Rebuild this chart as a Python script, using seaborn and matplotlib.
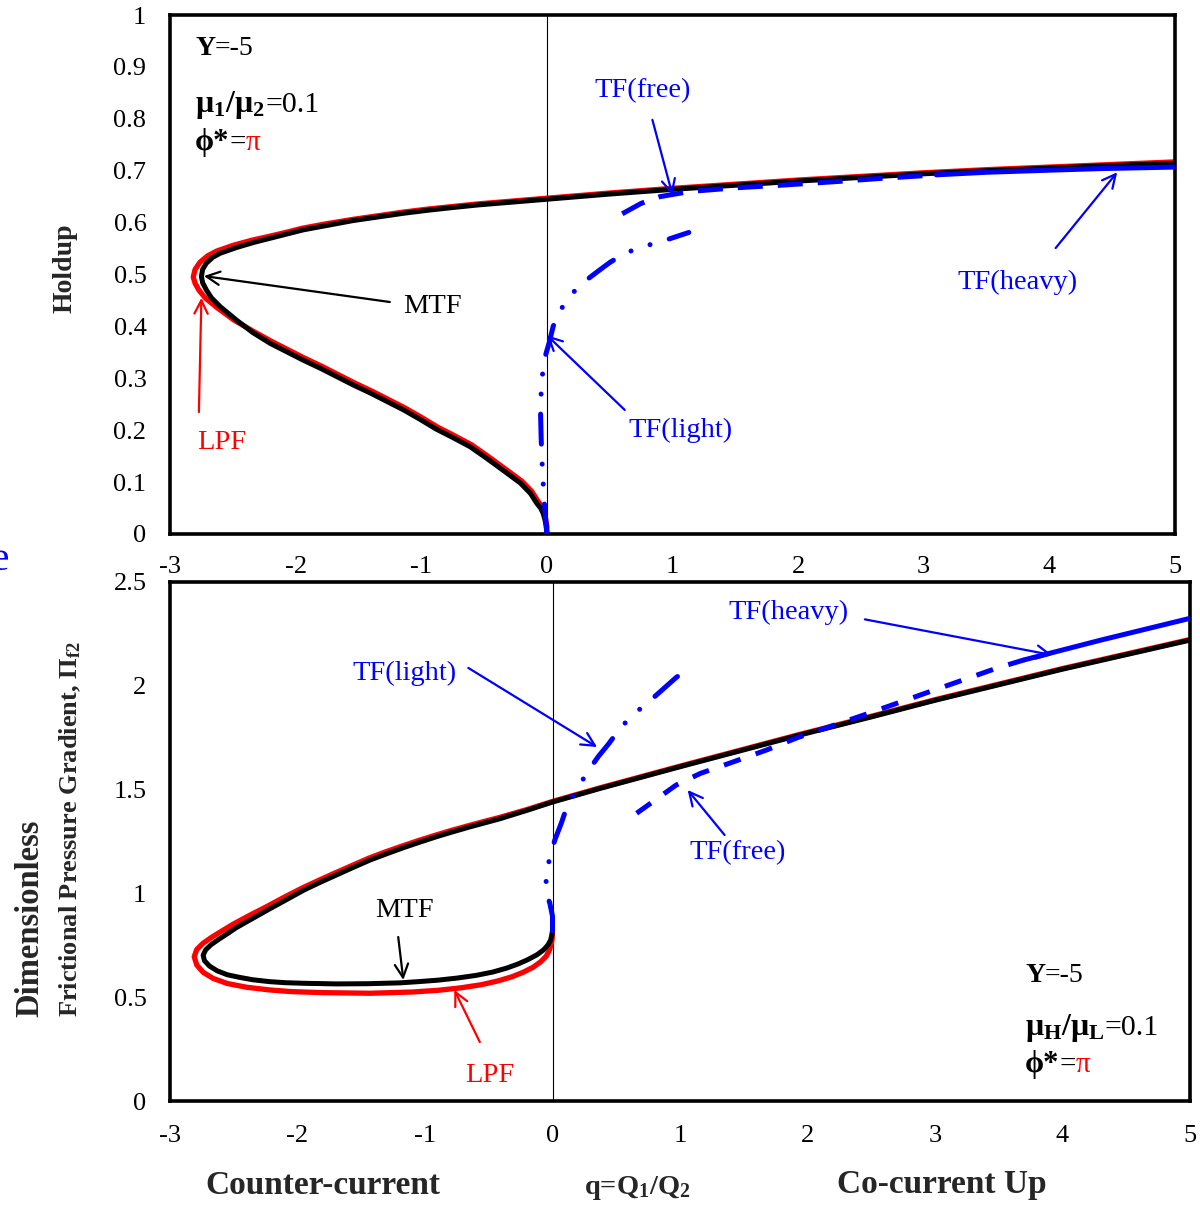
import seaborn as sns
import matplotlib.pyplot as plt
from matplotlib.ticker import FuncFormatter

# ---- top panel: holdup vs q ----
mtf_top_q = [0.00, -0.005, -0.015, -0.03, -0.05, -0.08, -0.13, -0.21, -0.35, -0.48, -0.61, -0.75, -0.88,
             -1.01, -1.14, -1.27, -1.40, -1.54, -1.67, -1.80, -1.94, -2.07, -2.20, -2.34, -2.47, -2.60,
             -2.67, -2.71, -2.74, -2.75, -2.74, -2.71, -2.66, -2.60, -2.47, -2.33, -2.20, -2.07, -1.94,
             -1.74, -1.54, -1.34, -1.14, -0.94, -0.75, -0.55, -0.35, 0.00, 0.50, 1.00, 1.50, 2.00, 2.50,
             3.00, 3.50, 4.00, 4.50, 5.00]
mtf_top_h = [0.000, 0.015, 0.027, 0.040, 0.050, 0.059, 0.078, 0.098, 0.123, 0.146, 0.168, 0.186, 0.202,
             0.221, 0.239, 0.255, 0.271, 0.287, 0.303, 0.319, 0.335, 0.351, 0.367, 0.388, 0.412, 0.438,
             0.455, 0.470, 0.484, 0.496, 0.510, 0.522, 0.533, 0.541, 0.552, 0.562, 0.570, 0.578, 0.586,
             0.595, 0.604, 0.611, 0.618, 0.624, 0.629, 0.634, 0.638, 0.645, 0.655, 0.664, 0.672, 0.680,
             0.687, 0.694, 0.700, 0.705, 0.710, 0.714]
lpf_top_q = [0.00, 0.000, -0.010, -0.02, -0.04, -0.07, -0.12, -0.20, -0.34, -0.47, -0.60, -0.74, -0.87,
             -1.00, -1.13, -1.26, -1.39, -1.53, -1.66, -1.79, -1.93, -2.06, -2.19, -2.34, -2.49, -2.63,
             -2.72, -2.77, -2.80, -2.815, -2.80, -2.76, -2.70, -2.63, -2.50, -2.35, -2.22, -2.08, -1.95,
             -1.75, -1.55, -1.35, -1.15, -0.95, -0.75, -0.55, -0.35, 0.00, 0.50, 1.00, 1.50, 2.00, 2.50,
             3.00, 3.50, 4.00, 4.50, 5.00]
lpf_top_h = [0.000, 0.015, 0.028, 0.042, 0.053, 0.063, 0.082, 0.102, 0.127, 0.150, 0.172, 0.190, 0.206,
             0.225, 0.243, 0.259, 0.275, 0.291, 0.307, 0.323, 0.339, 0.355, 0.371, 0.391, 0.412, 0.437,
             0.455, 0.470, 0.483, 0.495, 0.510, 0.524, 0.536, 0.545, 0.556, 0.566, 0.573, 0.581, 0.589,
             0.598, 0.606, 0.613, 0.620, 0.626, 0.631, 0.636, 0.640, 0.647, 0.657, 0.666, 0.674, 0.682,
             0.689, 0.696, 0.702, 0.707, 0.712, 0.717]
light_top_q = [0.00, -0.01, -0.02, -0.035, -0.045, -0.05, -0.045, -0.03, -0.01, 0.02, 0.05, 0.09, 0.13,
               0.17, 0.22, 0.28, 0.34, 0.40, 0.50, 0.62, 0.77, 0.93, 1.13]
light_top_h = [0.000, 0.03, 0.06, 0.12, 0.18, 0.23, 0.28, 0.32, 0.345, 0.37, 0.40, 0.422, 0.44,
               0.453, 0.468, 0.481, 0.494, 0.505, 0.523, 0.541, 0.554, 0.565, 0.581]
free_top_q = [0.60, 0.75, 0.90, 1.14, 1.50, 1.86, 2.30, 2.65, 3.10]
free_top_h = [0.617, 0.637, 0.650, 0.660, 0.667, 0.672, 0.679, 0.685, 0.692]
heavy_top_q = [3.10, 3.50, 4.00, 4.40, 5.00]
heavy_top_h = [0.692, 0.697, 0.701, 0.704, 0.707]

# ---- bottom panel: frictional pressure gradient vs q ----
mtf_bot_q = [0.00, -0.005, -0.015, -0.035, -0.07, -0.12, -0.19, -0.27, -0.36, -0.47, -0.60, -0.75, -0.90,
             -1.05, -1.20, -1.45, -1.69, -1.95, -2.10, -2.22, -2.35, -2.45, -2.55, -2.63, -2.69, -2.73,
             -2.74, -2.72, -2.68, -2.62, -2.55, -2.48, -2.35, -2.22, -2.08, -1.95, -1.82, -1.69, -1.56,
             -1.43, -1.30, -1.17, -1.04, -0.91, -0.78, -0.65, -0.53, -0.41, -0.20, 0.00, 0.37, 1.00, 1.94,
             2.50, 3.00, 3.50, 4.00, 4.50, 5.00]
mtf_bot_p = [0.824, 0.800, 0.775, 0.752, 0.728, 0.705, 0.682, 0.660, 0.640, 0.621, 0.605, 0.592, 0.582,
             0.575, 0.569, 0.565, 0.564, 0.567, 0.570, 0.575, 0.584, 0.595, 0.608, 0.627, 0.650, 0.676,
             0.703, 0.728, 0.752, 0.778, 0.806, 0.835, 0.880, 0.925, 0.972, 1.016, 1.054, 1.090, 1.126,
             1.161, 1.191, 1.220, 1.247, 1.273, 1.297, 1.320, 1.340, 1.360, 1.400, 1.440, 1.505, 1.610,
             1.763, 1.850, 1.930, 2.005, 2.080, 2.150, 2.220]
lpf_bot_q = [0.00, -0.003, -0.01, -0.025, -0.05, -0.09, -0.15, -0.23, -0.32, -0.43, -0.56, -0.72, -0.90,
             -1.10, -1.43, -1.80, -2.05, -2.22, -2.40, -2.55, -2.66, -2.74, -2.79, -2.81, -2.79, -2.74,
             -2.67, -2.59, -2.51, -2.38, -2.24, -2.10, -1.96, -1.83, -1.70, -1.57, -1.44, -1.31, -1.18,
             -1.05, -0.92, -0.79, -0.66, -0.54, -0.42, -0.20, 0.00, 0.37, 1.00, 1.94, 2.50, 3.00, 3.50,
             4.00, 4.50, 5.00]
lpf_bot_p = [0.808, 0.780, 0.755, 0.725, 0.697, 0.672, 0.645, 0.620, 0.598, 0.578, 0.560, 0.545, 0.533,
             0.525, 0.519, 0.522, 0.527, 0.535, 0.548, 0.566, 0.590, 0.620, 0.655, 0.695, 0.730, 0.760,
             0.790, 0.820, 0.850, 0.893, 0.937, 0.983, 1.027, 1.064, 1.100, 1.135, 1.170, 1.200, 1.228,
             1.255, 1.280, 1.304, 1.326, 1.346, 1.365, 1.404, 1.443, 1.508, 1.613, 1.766, 1.853, 1.933,
             2.008, 2.083, 2.153, 2.223]
light_bot_q = [0.00, 0.00, -0.02, -0.04, -0.05, -0.05, -0.035, -0.02, 0.02, 0.07, 0.12, 0.20, 0.28,
               0.36, 0.44, 0.53, 0.63, 0.75, 0.86, 0.97, 1.10]
light_bot_p = [0.82, 0.89, 0.95, 0.99, 1.04, 1.08, 1.13, 1.18, 1.26, 1.34, 1.43, 1.51, 1.59,
               1.66, 1.72, 1.795, 1.86, 1.92, 1.98, 2.04, 2.10]
free_bot_q = [0.66, 0.97, 1.16, 1.42, 1.68, 1.92, 2.44, 2.96, 3.48, 3.70]
free_bot_p = [1.386, 1.522, 1.578, 1.634, 1.691, 1.750, 1.859, 1.972, 2.084, 2.125]
heavy_bot_q = [3.70, 4.30, 5.00]
heavy_bot_p = [2.125, 2.220, 2.325]

top_yticks = [0, 0.1, 0.2, 0.3, 0.4, 0.5, 0.6, 0.7, 0.8, 0.9, 1]
bot_yticks = [0, 0.5, 1, 1.5, 2, 2.5]
q_ticks = [-3, -2, -1, 0, 1, 2, 3, 4, 5]

sns.set_style("white")
plt.rcParams['font.family'] = ['Liberation Serif', 'DejaVu Serif']
plt.rcParams['mathtext.fontset'] = 'custom'
plt.rcParams['mathtext.rm'] = 'Liberation Serif'
plt.rcParams['mathtext.it'] = 'Liberation Serif:italic'
plt.rcParams['mathtext.bf'] = 'Liberation Serif:bold'
plt.rcParams['axes.unicode_minus'] = False

W, H = 1200, 1206
fig = plt.figure(figsize=(12, 12.06), dpi=100)
ax1 = fig.add_axes([170 / W, 1 - 534 / H, 1005 / W, 519 / H])
ax2 = fig.add_axes([170 / W, 1 - 1101 / H, 1020 / W, 519 / H])

BLUE = '#0000ff'
dashdotdot = (0, (6, 4, 0.01, 4, 0.01, 4))


def curve(ax, x, y, color, ls='-', cap='butt', lw=3.6, z=3):
    sns.lineplot(x=x, y=y, ax=ax, sort=False, estimator=None, color=color,
                 linewidth=lw, linestyle=ls, dash_capstyle=cap,
                 solid_joinstyle='round', zorder=z)


def arrow(ax, tail, tip, color):
    ax.annotate('', xy=tip, xytext=tail,
                arrowprops=dict(arrowstyle='->', color=color, lw=1.6,
                                mutation_scale=24, shrinkA=0, shrinkB=0))


# top panel
curve(ax1, lpf_top_q, lpf_top_h, 'red', lw=3.8, z=2)
curve(ax1, mtf_top_q, mtf_top_h, 'black', z=3)
curve(ax1, light_top_q, light_top_h, BLUE, ls=dashdotdot, cap='round', z=4)
curve(ax1, free_top_q, free_top_h, BLUE, ls=(0, (5, 3)), z=4)
curve(ax1, heavy_top_q, heavy_top_h, BLUE, z=4)

# bottom panel
curve(ax2, lpf_bot_q, lpf_bot_p, 'red', lw=3.8, z=2)
curve(ax2, mtf_bot_q, mtf_bot_p, 'black', z=3)
curve(ax2, light_bot_q, light_bot_p, BLUE, ls=dashdotdot, cap='round', z=4)
curve(ax2, free_bot_q, free_bot_p, BLUE, ls=(0, (3.5, 3.2)), z=4)
curve(ax2, heavy_bot_q, heavy_bot_p, BLUE, z=4)

for ax, ylim, yt, pad in [(ax1, (0, 1), top_yticks, 11), (ax2, (0, 2.5), bot_yticks, 12)]:
    ax.set_xlim(-3, 5)
    ax.set_ylim(*ylim)
    ax.set_xticks(q_ticks)
    ax.set_yticks(yt)
    ax.yaxis.set_major_formatter(FuncFormatter(lambda v, p: '%g' % v))
    ax.axvline(0, color='black', lw=0.8, zorder=1)
    ax.grid(False)
    ax.set_xlabel('')
    ax.set_ylabel('')
    for s in ax.spines.values():
        s.set_linewidth(2.6)
        s.set_color('black')
    ax.tick_params(direction='out', length=5, width=1, color='#555555',
                   labelsize=19, labelcolor='black')
    ax.tick_params(axis='x', pad=pad)
    ax.tick_params(axis='y', pad=12)


def chain(ax, x, y, pieces):
    # write text pieces one after another on a shared baseline
    renderer = fig.canvas.get_renderer()
    for s, weight, color, size in pieces:
        t = ax.text(x, y, s, fontsize=size, va='baseline', fontweight=weight, color=color)
        bb = t.get_window_extent(renderer)
        x = ax.transData.inverted().transform((bb.x1, bb.y0))[0]


def params(ax, x, ys, ratio):
    chain(ax, x, ys[0], [('Y', 'bold', 'black', 20), ('=-5', 'normal', 'black', 20)])
    chain(ax, x, ys[1], [(ratio, 'bold', 'black', 23), ('=0.1', 'normal', 'black', 21.5)])
    chain(ax, x, ys[2], [('\u03d5*', 'bold', 'black', 22), ('=', 'normal', 'black', 21),
                         ('π', 'normal', 'red', 21)])


fig.canvas.draw()
fs = 20.5
# top annotations
params(ax1, -2.80, (0.923, 0.813, 0.740), r'μ$_\mathbf{1}$/μ$_\mathbf{2}$')
ax1.text(0.76, 0.854, 'TF(free)', color=BLUE, fontsize=fs, ha='center', va='center')
arrow(ax1, (0.84, 0.798), (1.0, 0.653), BLUE)
ax1.text(3.75, 0.484, 'TF(heavy)', color=BLUE, fontsize=fs, ha='center', va='center')
arrow(ax1, (4.05, 0.551), (4.54, 0.697), BLUE)
ax1.text(-0.91, 0.439, 'MTF', color='black', fontsize=fs, ha='center', va='center')
arrow(ax1, (-1.25, 0.447), (-2.73, 0.497), 'black')
ax1.text(-2.59, 0.177, 'LPF', color='red', fontsize=fs, ha='center', va='center')
arrow(ax1, (-2.77, 0.235), (-2.75, 0.455), 'red')
ax1.text(1.06, 0.200, 'TF(light)', color=BLUE, fontsize=fs, ha='center', va='center')
arrow(ax1, (0.62, 0.239), (0.0, 0.383), BLUE)

# bottom annotations
params(ax2, 3.706, (0.573, 0.318, 0.140), r'μ$_\mathbf{H}$/μ$_\mathbf{L}$')
ax2.text(1.85, 2.355, 'TF(heavy)', color=BLUE, fontsize=fs, ha='center', va='center')
arrow(ax2, (2.45, 2.32), (3.92, 2.148), BLUE)
ax2.text(-1.16, 2.062, 'TF(light)', color=BLUE, fontsize=fs, ha='center', va='center')
arrow(ax2, (-0.66, 2.086), (0.35, 1.705), BLUE)
ax2.text(1.45, 1.195, 'TF(free)', color=BLUE, fontsize=fs, ha='center', va='center')
arrow(ax2, (1.35, 1.281), (1.06, 1.498), BLUE)
ax2.text(-1.16, 0.92, 'MTF', color='black', fontsize=fs, ha='center', va='center')
arrow(ax2, (-1.21, 0.79), (-1.17, 0.583), 'black')
ax2.text(-0.49, 0.125, 'LPF', color='red', fontsize=fs, ha='center', va='center')
arrow(ax2, (-0.57, 0.284), (-0.77, 0.535), 'red')

# axis titles
fig.text(65 / W, 1 - 313 / H, 'Holdup', rotation=90, rotation_mode='anchor',
         ha='left', va='center', fontsize=20, fontweight='bold')
fig.text(30 / W, 1 - 1017 / H, 'Dimensionless', rotation=90, rotation_mode='anchor',
         ha='left', va='center', fontsize=23.5, fontweight='bold')
fig.text(70 / W, 1 - 1017 / H, r'Frictional Pressure Gradient, $\mathbf{Π_{f2}}$',
         rotation=90, rotation_mode='anchor', ha='left', va='center',
         fontsize=19, fontweight='bold')
fig.text(323 / W, 1 - 1185 / H, 'Counter-current', ha='center', va='center',
         fontsize=24, fontweight='bold')
fig.text(637 / W, 1 - 1188 / H, r'q=Q$_\mathbf{1}$/Q$_\mathbf{2}$', ha='center', va='center',
         fontsize=20.5, fontweight='bold')
fig.text(942 / W, 1 - 1185 / H, 'Co-current Up', ha='center', va='center',
         fontsize=24, fontweight='bold')
# clipped stray glyph at left edge
fig.text(0.0, 1 - 560 / H, 'e', color=BLUE, fontsize=30, ha='center', va='center')

fig.savefig('out.png', dpi=100)
